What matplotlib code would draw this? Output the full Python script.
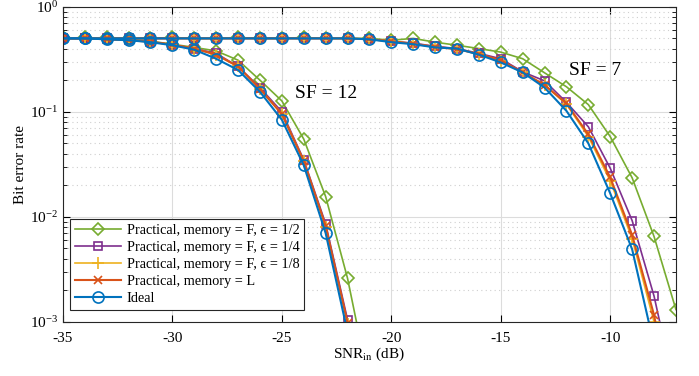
import matplotlib.pyplot as plt
from matplotlib.ticker import LogLocator, NullFormatter

plt.rcParams['font.family'] = ['Liberation Serif', 'DejaVu Serif']
plt.rcParams['mathtext.fontset'] = 'stix'
plt.rcParams['axes.unicode_minus'] = False

# SNR axis (dB)
snr_sf12 = list(range(-35, -20))
snr_sf7 = list(range(-35, -6))

# SF = 12 curves
ber12_half = [0.50, 0.51, 0.50, 0.49, 0.47, 0.44, 0.41, 0.38, 0.31, 0.20, 0.127, 0.055, 0.0156, 0.0026, 2.5e-4]
ber12_quarter = [0.50, 0.50, 0.49, 0.48, 0.465, 0.435, 0.40, 0.36, 0.27, 0.17, 0.100, 0.035, 0.0086, 0.00105, 5e-5]
ber12_eighth = [0.50, 0.50, 0.49, 0.48, 0.465, 0.435, 0.40, 0.35, 0.27, 0.165, 0.096, 0.034, 0.0080, 0.00096, 4e-5]
ber12_mem_l = [0.50, 0.50, 0.49, 0.48, 0.465, 0.435, 0.40, 0.35, 0.27, 0.165, 0.095, 0.034, 0.0082, 0.00098, 4e-5]
ber12_ideal = [0.50, 0.50, 0.49, 0.48, 0.46, 0.43, 0.39, 0.32, 0.25, 0.155, 0.084, 0.031, 0.0070, 0.0008, 3e-5]

# SF = 7 curves
ber7_half = [0.51, 0.50, 0.51, 0.50, 0.50, 0.51, 0.50, 0.50, 0.51, 0.50, 0.50, 0.51, 0.50, 0.50, 0.50,
             0.48, 0.50, 0.46, 0.43, 0.40, 0.37, 0.32, 0.235, 0.173, 0.117, 0.058, 0.0235, 0.0065, 0.00131]
ber7_quarter = [0.50, 0.50, 0.50, 0.50, 0.50, 0.50, 0.50, 0.50, 0.50, 0.50, 0.50, 0.50, 0.50, 0.50, 0.49,
                0.47, 0.45, 0.42, 0.40, 0.36, 0.32, 0.24, 0.197, 0.123, 0.072, 0.029, 0.0092, 0.00176, 2e-4]
ber7_eighth = [0.50, 0.50, 0.50, 0.50, 0.50, 0.50, 0.50, 0.50, 0.50, 0.50, 0.50, 0.50, 0.50, 0.50, 0.49,
               0.47, 0.445, 0.415, 0.395, 0.355, 0.305, 0.237, 0.18, 0.118, 0.058, 0.022, 0.0062, 0.0010, 9e-5]
ber7_mem_l = [0.50, 0.50, 0.50, 0.50, 0.50, 0.50, 0.50, 0.50, 0.50, 0.50, 0.50, 0.50, 0.50, 0.50, 0.49,
              0.47, 0.445, 0.415, 0.395, 0.355, 0.31, 0.237, 0.18, 0.12, 0.061, 0.0237, 0.0067, 0.00116, 1e-4]
ber7_ideal = [0.50, 0.50, 0.50, 0.50, 0.50, 0.50, 0.50, 0.50, 0.50, 0.50, 0.50, 0.50, 0.50, 0.50, 0.49,
              0.46, 0.44, 0.41, 0.40, 0.35, 0.295, 0.237, 0.17, 0.102, 0.050, 0.0167, 0.0049, 0.0006, 5e-5]

labels = ['Practical, memory = F, \u03f5 = 1/2',
          'Practical, memory = F, \u03f5 = 1/4',
          'Practical, memory = F, \u03f5 = 1/8',
          'Practical, memory = L',
          'Ideal']

# style per curve: colour, marker, marker size, line width
styles = [('#77AC30', 'D', 6.5, 1.2),
          ('#7E2F8E', 's', 6.0, 1.2),
          ('#EDB120', '+', 8.0, 1.2),
          ('#D95319', 'x', 6.0, 1.5),
          ('#0072BD', 'o', 8.0, 1.5)]

sf12 = [ber12_half, ber12_quarter, ber12_eighth, ber12_mem_l, ber12_ideal]
sf7 = [ber7_half, ber7_quarter, ber7_eighth, ber7_mem_l, ber7_ideal]

fig = plt.figure(figsize=(6.99, 3.76), dpi=100)
ax = fig.add_axes([0.090, 0.144, 0.877, 0.838])

for i in range(len(labels)):
    color, marker, ms, lw = styles[i]
    #draw SF=12 with the legend label, SF=7 with the same style but no label
    ax.plot(snr_sf12, sf12[i], color=color, marker=marker, markersize=ms, lw=lw,
            markerfacecolor='none', markeredgewidth=1.2, label=labels[i])
    ax.plot(snr_sf7, sf7[i], color=color, marker=marker, markersize=ms, lw=lw,
            markerfacecolor='none', markeredgewidth=1.2)

ax.set_yscale('log')
ax.set_xlim(-35, -7)
ax.set_ylim(1e-3, 1)
ax.set_xticks([-35, -30, -25, -20, -15, -10])
ax.yaxis.set_minor_locator(LogLocator(base=10, subs=range(2, 10)))
ax.yaxis.set_minor_formatter(NullFormatter())

ax.grid(True, which='major', color='#dcdcdc', lw=0.8, ls='-')
ax.grid(True, which='minor', axis='y', color='#cfcfcf', lw=0.8, ls=(0, (1, 3)))
ax.set_axisbelow(True)

ax.tick_params(which='both', direction='in', top=True, right=True, labelsize=11)
ax.tick_params(which='major', length=5)
ax.tick_params(which='minor', length=3)
ax.tick_params(axis='x', pad=7)
for s in ax.spines.values():
    s.set_color('#262626')
    s.set_linewidth(0.8)

ax.set_xlabel('SNR$_{\\rm in}$ (dB)', fontsize=11, labelpad=1)
ax.set_ylabel('Bit error rate', fontsize=11, labelpad=2)

ax.text(-23.0, 0.15, 'SF = 12', fontsize=14, ha='center', va='center')
ax.text(-10.7, 0.25, 'SF = 7', fontsize=14, ha='center', va='center')

leg = ax.legend(loc='lower left', bbox_to_anchor=(0.0, 0.015), fontsize=10.3,
                fancybox=False, edgecolor='#262626', framealpha=1,
                handlelength=3.2, borderpad=0.35,
                labelspacing=0.27, handletextpad=0.4)
leg.get_frame().set_linewidth(0.8)

fig.savefig('out.png', dpi=100)
